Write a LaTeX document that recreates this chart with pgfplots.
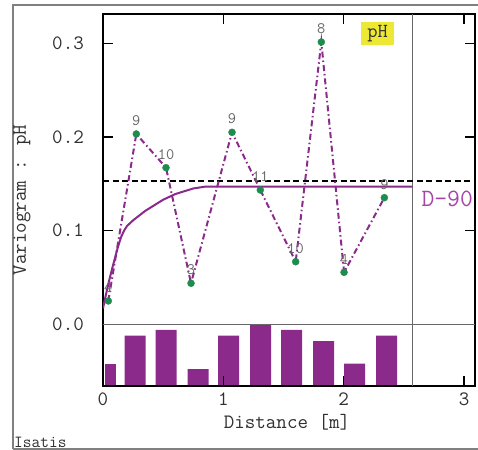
\documentclass[border=0pt]{standalone}
\usepackage{pgfplots}
\pgfplotsset{compat=1.18}
\usepackage{fontspec}
\definecolor{vpurple}{HTML}{8B2A8B}
\definecolor{lpurple}{HTML}{A844A8}
\definecolor{vgreen}{HTML}{1E8C4E}
\definecolor{txtgray}{HTML}{303030}
\definecolor{framegray}{HTML}{808080}
\definecolor{phyellow}{HTML}{EDE834}

\pgfplotstableread{
x y lab
0.044 0.0249 4
0.2767 0.2032 9
0.5236 0.1672 10
0.7313 0.0438 3
1.072 0.2050 9
1.307 0.1434 11
1.601 0.0668 10
1.814 0.3014 8
2.003 0.0555 4
2.338 0.1352 9
}\expvario

\pgfplotstableread{
x y
0.000 0.017
0.025 0.032
0.050 0.046
0.075 0.059
0.100 0.071
0.125 0.083
0.150 0.093
0.175 0.100
0.200 0.105
0.250 0.111
0.300 0.116
0.350 0.121
0.400 0.125
0.450 0.129
0.500 0.133
0.550 0.136
0.600 0.139
0.650 0.141
0.700 0.143
0.750 0.145
0.800 0.146
0.850 0.147
0.900 0.147
2.570 0.147
}\model

\pgfplotstableread{
x n
0.2660 9
0.5236 10
0.7895 3
1.0430 9
1.3089 11
1.5665 10
1.8324 8
2.0900 4
2.3559 9
}\pairs

\begin{document}
\begin{tikzpicture}
\path[use as bounding box] (0,0) rectangle (478bp,450bp);
\draw[framegray, line width=2bp] (13bp,1bp) -- (13bp,445bp) -- (500bp,445bp);
\draw[framegray, line width=2bp] (13bp,1bp) -- (500bp,1bp);

% histogram of pairs
\begin{axis}[
  at={(103bp,64bp)}, anchor=south west,
  scale only axis, width=372bp, height=61.7bp,
  xmin=0, xmax=3.091, ymin=0, ymax=11,
  hide axis, clip=false,
]
\addplot[ybar, bar width=0.0914, fill=vpurple, draw=none] coordinates {(0.0623,4)};
\addplot[ybar, bar width=0.1745, fill=vpurple, draw=none] table[x=x,y=n] {\pairs};
\end{axis}

\begin{axis}[
  at={(103bp,64bp)}, anchor=south west,
  scale only axis, width=372bp, height=372bp,
  xmin=0, xmax=3.091, ymin=-0.0659, ymax=0.3313,
  xtick={0,1,2,3}, xticklabels={0,1,2,3},
  ytick={0,0.1,0.2,0.3}, yticklabels={0.0,0.1,0.2,0.3},
  tick align=inside, major tick length=10bp,
  tick style={black, line width=1.2bp},
  axis line style={black, line width=2.2bp},
  xticklabel style={anchor=north, inner sep=0pt, yshift=-7bp, font=\ttfamily\fontsize{20.5}{22}\selectfont, text=txtgray},
  yticklabel style={anchor=east, inner sep=0pt, xshift=-19bp, font=\ttfamily\fontsize{20.5}{22}\selectfont, text=txtgray},
]
\addplot[framegray!80!black, line width=1.3bp] coordinates {(0,0) (3.091,0)};
\addplot[framegray!80!black, line width=1.3bp] coordinates {(2.57,-0.0659) (2.57,0.3313)};
\addplot[black, line width=2bp, dash pattern=on 6bp off 3.5bp] coordinates {(0,0.153) (3.091,0.153)};
\addplot[vpurple, line width=2bp] table[x=x,y=y] {\model};
\addplot[only marks, mark=none, point meta=explicit symbolic,
  nodes near coords,
  every node near coord/.style={anchor=south, inner sep=0pt, yshift=8bp, text=txtgray!75, font=\ttfamily\fontsize{16}{17}\selectfont}]
  table[x=x,y=y,meta=lab] {\expvario};
\addplot[vpurple, line width=2bp, dash pattern=on 6bp off 3bp on 1.5bp off 3bp] table[x=x,y=y] {\expvario};
\addplot[only marks, mark=*, mark size=3.5bp, vgreen] table[x=x,y=y] {\expvario};
\node[fill=phyellow, minimum width=33bp, minimum height=23bp, inner sep=0pt, text=txtgray, font=\ttfamily\fontsize{20}{21}\selectfont] at (axis cs:2.281,0.3105) {pH};
\node[text=lpurple, font=\ttfamily\fontsize{25}{26}\selectfont, anchor=center] at (axis cs:2.86,0.134) {D-90};
\end{axis}

\node[rotate=90, text=txtgray, font=\ttfamily\fontsize{20.5}{22}\selectfont] at (22bp,250bp) {Variogram : pH};
\node[text=txtgray, font=\ttfamily\fontsize{20.5}{22}\selectfont] at (287bp,27.3bp) {Distance [m]};
\node[anchor=base west, inner sep=0pt, text=txtgray, font=\ttfamily\fontsize{17}{18}\selectfont] at (14bp,3bp) {Isatis};
\end{tikzpicture}
\end{document}
